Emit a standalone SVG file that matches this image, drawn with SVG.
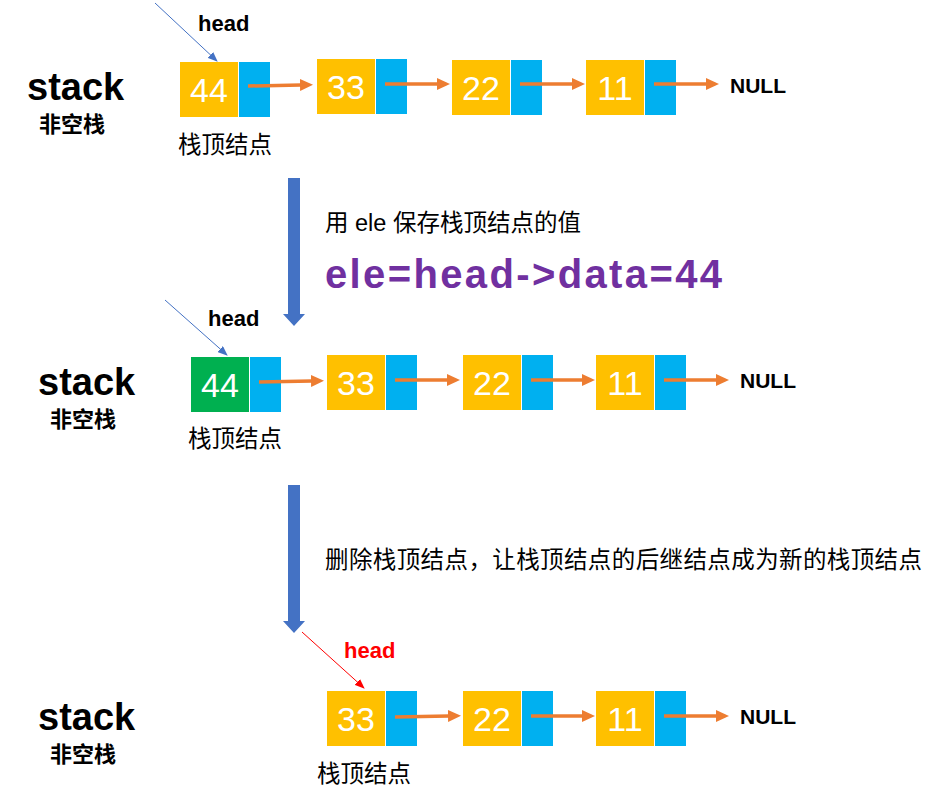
<svg xmlns="http://www.w3.org/2000/svg" width="939" height="804" viewBox="0 0 939 804">
<defs>
<style>
.y{fill:#FFC000}
.g{fill:#00B050}
.b{fill:#00B0F0}
.num{font-family:"Liberation Sans",Arial,sans-serif;font-size:34px;fill:#fff;text-anchor:middle}
.stk{font-family:"Liberation Sans","Noto Sans CJK SC",sans-serif;font-size:38px;font-weight:bold;fill:#000}
.cn{font-family:"Noto Sans CJK SC",sans-serif;font-size:22px;font-weight:bold;fill:#000}
.lbl{font-family:"Liberation Sans","Noto Sans CJK SC",sans-serif;font-size:23.5px;fill:#000}
.hd{font-family:"Liberation Sans",Arial,sans-serif;font-size:22px;font-weight:bold;fill:#000}
.null{font-family:"Liberation Sans",Arial,sans-serif;font-size:21px;font-weight:bold;fill:#000}
.oa{stroke:#ED7D31;stroke-width:3.5;fill:none}
.ba{stroke:#4472C4;stroke-width:1;fill:none}
.ra{stroke:#FF0000;stroke-width:1;fill:none}
.big{fill:#4472C4}
</style>
<marker id="mo" markerUnits="userSpaceOnUse" markerWidth="13" markerHeight="12" refX="1" refY="6" orient="auto">
<path d="M0,0 L13,6 L0,12 z" fill="#ED7D31"/>
</marker>
<marker id="mb" markerUnits="userSpaceOnUse" markerWidth="10" markerHeight="8" refX="9" refY="4" orient="auto">
<path d="M0,0 L10,4 L0,8 z" fill="#4472C4"/>
</marker>
<marker id="mr" markerUnits="userSpaceOnUse" markerWidth="10" markerHeight="8" refX="9" refY="4" orient="auto">
<path d="M0,0 L10,4 L0,8 z" fill="#FF0000"/>
</marker>
</defs>
<rect width="939" height="804" fill="#fff"/>

<!-- Row 1 -->
<g id="row1-label">
<text class="stk" x="27" y="100">stack</text>
<text class="cn" x="39" y="132">非空栈</text>
</g>
<g id="r1-head"><text class="hd" x="198" y="31">head</text></g>
<g id="r1-n44">
<rect class="y" x="180" y="62" width="58" height="55"/>
<rect class="b" x="239" y="62" width="31" height="55"/>
<text class="num" x="209" y="102">44</text>
</g>
<g id="r1-n33">
<rect class="y" x="317" y="59" width="58" height="55"/>
<rect class="b" x="376" y="59" width="31" height="55"/>
<text class="num" x="346" y="99">33</text>
</g>
<g id="r1-n22">
<rect class="y" x="452" y="60" width="58" height="55"/>
<rect class="b" x="511" y="60" width="31" height="55"/>
<text class="num" x="481" y="100">22</text>
</g>
<g id="r1-n11">
<rect class="y" x="586" y="60" width="58" height="55"/>
<rect class="b" x="645" y="60" width="31" height="55"/>
<text class="num" x="615" y="100">11</text>
</g>
<g id="r1-null"><text class="null" x="730" y="93">NULL</text></g>
<g id="r1-top"><text class="lbl" x="178" y="153">栈顶结点</text></g>

<!-- Step 1 -->
<g id="step1">
<polygon class="big" points="288,178 300,178 300,314 305,314 294,326 283,314 288,314"/>
<text class="lbl" x="325" y="231" font-size="24">用 ele 保存栈顶结点的值</text>
<text x="325" y="288" font-family="Liberation Sans,Arial,sans-serif" font-size="40" font-weight="bold" fill="#7030A0" textLength="397" lengthAdjust="spacing">ele=head-&gt;data=44</text>
</g>

<!-- Row 2 -->
<g id="row2-label">
<text class="stk" x="38" y="395">stack</text>
<text class="cn" x="50" y="427">非空栈</text>
</g>
<g id="r2-head"><text class="hd" x="208" y="326">head</text></g>
<g id="r2-n44">
<rect class="g" x="191" y="357" width="58" height="55"/>
<rect class="b" x="250" y="357" width="31" height="55"/>
<text class="num" x="220" y="397">44</text>
</g>
<g id="r2-n33">
<rect class="y" x="327" y="355" width="58" height="55"/>
<rect class="b" x="386" y="355" width="31" height="55"/>
<text class="num" x="356" y="395">33</text>
</g>
<g id="r2-n22">
<rect class="y" x="463" y="355" width="58" height="55"/>
<rect class="b" x="522" y="355" width="31" height="55"/>
<text class="num" x="492" y="395">22</text>
</g>
<g id="r2-n11">
<rect class="y" x="596" y="355" width="58" height="55"/>
<rect class="b" x="655" y="355" width="31" height="55"/>
<text class="num" x="625" y="395">11</text>
</g>
<g id="r2-null"><text class="null" x="740" y="388">NULL</text></g>
<g id="r2-top"><text class="lbl" x="188" y="447">栈顶结点</text></g>

<!-- Step 2 -->
<g id="step2">
<polygon class="big" points="288,485 300,485 300,621 305,621 294,633 283,621 288,621"/>
<text class="lbl" x="325" y="568" font-size="24" textLength="597" lengthAdjust="spacing">删除栈顶结点，让栈顶结点的后继结点成为新的栈顶结点</text>
</g>

<!-- Row 3 -->
<g id="row3-label">
<text class="stk" x="38" y="730">stack</text>
<text class="cn" x="50" y="762">非空栈</text>
</g>
<g id="r3-head"><text class="hd" x="344" y="658" style="fill:#FF0000">head</text></g>
<g id="r3-n33">
<rect class="y" x="327" y="691" width="58" height="55"/>
<rect class="b" x="386" y="691" width="31" height="55"/>
<text class="num" x="356" y="731">33</text>
</g>
<g id="r3-n22">
<rect class="y" x="463" y="691" width="58" height="55"/>
<rect class="b" x="522" y="691" width="31" height="55"/>
<text class="num" x="492" y="731">22</text>
</g>
<g id="r3-n11">
<rect class="y" x="596" y="691" width="58" height="55"/>
<rect class="b" x="655" y="691" width="31" height="55"/>
<text class="num" x="625" y="731">11</text>
</g>
<g id="r3-null"><text class="null" x="740" y="724">NULL</text></g>
<g id="r3-top"><text class="lbl" x="317" y="782">栈顶结点</text></g>

<!-- Connectors -->
<g id="connectors">
<line class="ba" x1="155" y1="3" x2="217" y2="61" marker-end="url(#mb)"/>
<line class="oa" x1="248" y1="86" x2="301" y2="85" marker-end="url(#mo)"/>
<line class="oa" x1="385" y1="84" x2="438" y2="84" marker-end="url(#mo)"/>
<line class="oa" x1="520" y1="84" x2="573" y2="84" marker-end="url(#mo)"/>
<line class="oa" x1="654" y1="84" x2="707" y2="84" marker-end="url(#mo)"/>

<line class="ba" x1="165" y1="300" x2="227" y2="355" marker-end="url(#mb)"/>
<line class="oa" x1="259" y1="382" x2="312" y2="381" marker-end="url(#mo)"/>
<line class="oa" x1="395" y1="380" x2="448" y2="380" marker-end="url(#mo)"/>
<line class="oa" x1="531" y1="380" x2="583" y2="380" marker-end="url(#mo)"/>
<line class="oa" x1="664" y1="380" x2="717" y2="380" marker-end="url(#mo)"/>

<line class="ra" x1="302" y1="632" x2="364" y2="688" marker-end="url(#mr)"/>
<line class="oa" x1="395" y1="717" x2="449" y2="716" marker-end="url(#mo)"/>
<line class="oa" x1="531" y1="716" x2="583" y2="716" marker-end="url(#mo)"/>
<line class="oa" x1="664" y1="716" x2="717" y2="716" marker-end="url(#mo)"/>
</g>
</svg>
